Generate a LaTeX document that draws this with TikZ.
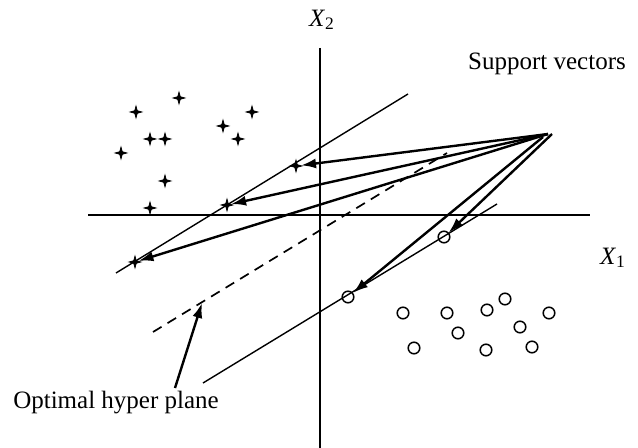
\documentclass[tikz,border=0pt]{standalone}
\usepackage{fontspec}
\setmainfont{Liberation Serif}
\usetikzlibrary{arrows.meta,shapes.geometric}

\begin{document}
\begin{tikzpicture}[x=0.5pt,y=-0.5pt,>={Latex[length=7.5pt,width=5pt]},
 axis/.style={line width=0.8pt},
 margin/.style={line width=0.7pt},
 hyper/.style={line width=0.85pt,dash pattern=on 5pt off 3.5pt},
 pointer/.style={->,line width=1.2pt},
 plusmark/.style={star,star points=4,star point ratio=3.2,draw,fill=black,line width=0.4pt,inner sep=0pt,minimum size=5.8pt},
 ringmark/.style={circle,draw,line width=0.75pt,inner sep=0pt,minimum size=5.8pt},
 lbl/.style={font=\fontsize{12.5}{14}\selectfont}]
\useasboundingbox (0,0) rectangle (638,448);
% axes
\coordinate (xl) at (88,215);
\coordinate (xr) at (590,215);
\coordinate (yt) at (320,48);
\coordinate (yb) at (320,448);
\draw[axis] (xl) -- (xr);
\draw[axis] (yt) -- (yb);
\node[lbl] (x1) at (613,258) {\textit{X}\textsubscript{1}};
\node[lbl] (x2) at (322,20) {\textit{X}\textsubscript{2}};
% class +1
\foreach \px/\py [count=\i] in {179/98,136/112,252/112,223/126,150/139,165/139,238/139,121/153,165/181,150/208}
  \node[plusmark] (p\i) at (\px,\py) {};
\node[plusmark] (svp1) at (296,166) {};
\node[plusmark] (svp2) at (227,205) {};
\node[plusmark] (svp3) at (135,262) {};
% class -1
\foreach \px/\py [count=\i] in {403/313,447/313,487/310,505/299,549/313,458/333,520/327,414/348,486/350,532/347}
  \node[ringmark] (n\i) at (\px,\py) {};
\node[ringmark] (svn1) at (444,237) {};
\node[ringmark] (svn2) at (348,297) {};
% margins and optimal plane
\coordinate (ma) at (116,273);
\coordinate (mb) at (408,94);
\coordinate (ha) at (153,332);
\coordinate (hb) at (447,153);
\coordinate (na) at (203,383);
\coordinate (nb) at (497,204);
\draw[margin] (ma) -- (mb);
\draw[hyper] (ha) -- (hb);
\draw[margin] (na) -- (nb);
% support vector pointers
\node[lbl] (svlbl) at (547,64) {Support vectors};
\coordinate (sa) at (548,134);
\coordinate (sb) at (552,134);
\coordinate (sc) at (543,137);
\draw[pointer] (sa) -- (svp1);
\draw[pointer] (sa) -- (svp2);
\draw[pointer] (sa) -- (svp3);
\draw[pointer] (sb) -- (svn1);
\draw[pointer] (sc) -- (svn2);
% optimal hyper plane label
\node[lbl] (hplbl) at (116,403) {Optimal hyper plane};
\coordinate (hptail) at (175,388);
\coordinate (hptip) at (202,303);
\draw[pointer] (hptail) -- (hptip);
\end{tikzpicture}
\end{document}
